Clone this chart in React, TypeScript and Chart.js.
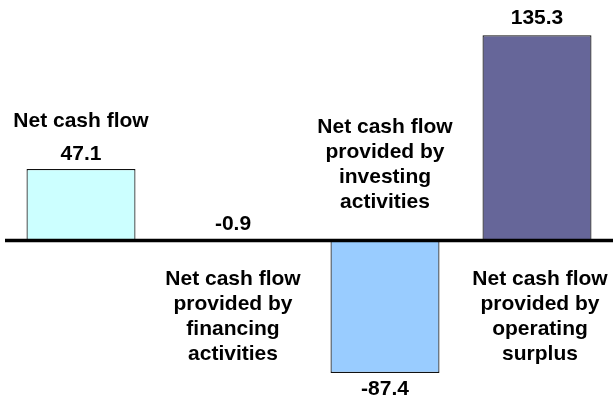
import React, { useEffect, useRef } from "react";
import { Chart, registerables } from "chart.js";

Chart.register(...registerables);

const categories: string[][] = [
  ["Net cash flow"],
  ["Net cash flow", "provided by", "financing", "activities"],
  ["Net cash flow", "provided by", "investing", "activities"],
  ["Net cash flow", "provided by", "operating", "surplus"],
];
const values: number[] = [47.1, -0.9, -87.4, 135.3];
const valueLabels: string[] = ["47.1", "-0.9", "-87.4", "135.3"];
const barColors: string[] = ["#CCFFFF", "#FFFFFF", "#99CCFF", "#666699"];

const FONT = "bold 21px 'Liberation Sans', Arial, sans-serif";
const LINE_H = 25;

const labelPlugin = {
  id: "labelPlugin",
  afterDatasetsDraw(chart: any) {
    const ctx = chart.ctx;
    const meta = chart.getDatasetMeta(0);
    const yZero = chart.scales.y.getPixelForValue(0);
    const area = chart.chartArea;
    ctx.save();
    ctx.strokeStyle = "#000000";
    ctx.lineWidth = 3.5;
    ctx.beginPath();
    ctx.moveTo(area.left, yZero);
    ctx.lineTo(chart.width, yZero);
    ctx.stroke();

    ctx.fillStyle = "#000000";
    ctx.font = FONT;
    ctx.textAlign = "center";
    ctx.textBaseline = "alphabetic";
    meta.data.forEach((bar: any, i: number) => {
      const x = bar.x;
      const lines = categories[i];
      let valueY: number;
      let catStart: number;
      if (i === 0) {
        valueY = bar.y - 9;
        catStart = bar.y - 42;
      } else if (i === 1) {
        valueY = yZero - 10;
        catStart = yZero + 45;
      } else if (i === 2) {
        valueY = bar.y + 22;
        catStart = yZero - 107;
      } else {
        valueY = bar.y - 11;
        catStart = yZero + 45;
      }
      ctx.fillText(valueLabels[i], x, valueY);
      lines.forEach((ln, k) => {
        ctx.fillText(ln, x + (i === 3 ? 3 : 0), catStart + k * LINE_H);
      });
    });
    ctx.restore();
  },
};

export default function App() {
  const ref = useRef<HTMLCanvasElement | null>(null);
  useEffect(() => {
    document.body.style.margin = "0";
    if (!ref.current) return;
    const chart = new Chart(ref.current, {
      type: "bar",
      data: {
        labels: categories.map((c) => c.join(" ")),
        datasets: [
          {
            data: values,
            backgroundColor: barColors,
            borderColor: "#111111",
            borderWidth: 1.2,
            borderSkipped: false,
            barPercentage: 0.717,
            categoryPercentage: 1,
          },
        ],
      },
      options: {
        animation: false,
        responsive: false,
        maintainAspectRatio: false,
        layout: { padding: { left: 5, right: 0, top: 0, bottom: 0 } },
        plugins: {
          legend: { display: false },
          tooltip: { enabled: false },
        },
        scales: {
          x: { display: false },
          y: { display: false, min: -107.2, max: 158.5 },
        },
      },
      plugins: [labelPlugin],
    });
    return () => chart.destroy();
  }, []);
  return (
    <div style={{ width: 613, height: 403, background: "#ffffff" }}>
      <canvas ref={ref} width={613} height={403} style={{ display: "block" }} />
    </div>
  );
}
